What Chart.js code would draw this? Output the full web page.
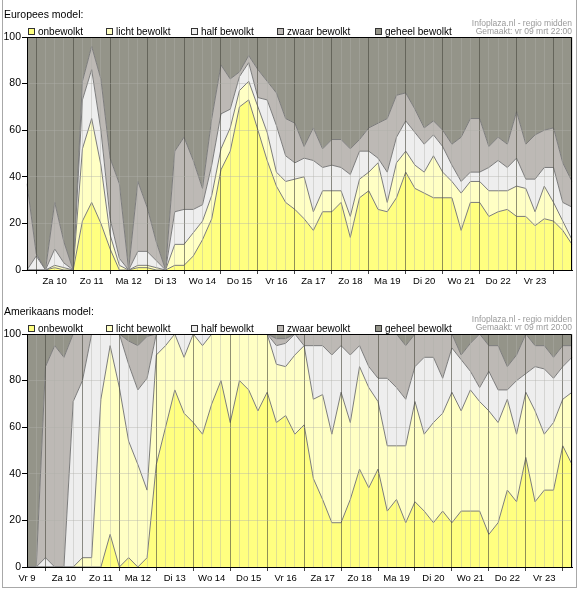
<!DOCTYPE html>
<html>
<head>
<meta charset="utf-8">
<script src="https://cdn.jsdelivr.net/npm/chart.js@4.4.1/dist/chart.umd.min.js"></script>
<style>
  html, body { margin: 0; padding: 0; background: #fff; }
  body { width: 578px; height: 594px; overflow: hidden; position: relative; font-family: "Liberation Sans", Arial, sans-serif; }
  #kader { position: absolute; left: 2px; top: 0; width: 573px; height: 587px; border-left: 1px solid #a8a8a8; border-right: 1px solid #a8a8a8; border-bottom: 1px solid #a8a8a8; }
  .paneel { position: absolute; left: 0; width: 578px; height: 297px; }
  .paneel canvas { position: absolute; left: 0; top: 0; }
  .titel { position: absolute; left: 4px; top: 8px; font-size: 10.5px; line-height: 12px; color: #000; white-space: nowrap; }
  .bron { position: absolute; right: 6px; font-size: 8.5px; line-height: 9px; color: #999; white-space: nowrap; }
  .leg { position: absolute; top: 26px; height: 11px; font-size: 10px; line-height: 11px; color: #000; white-space: nowrap; }
  .leg i { position: absolute; left: 0; top: 2px; width: 5px; height: 5px; border: 1px solid #333; }
  .leg span { position: absolute; left: 10px; top: 0; }
</style>
</head>
<body>
<div id="kader"></div>
<div class="paneel" id="paneelEU" style="top:0">
  <canvas id="grafiekEU" width="578" height="297"></canvas>
  <div class="titel">Europees model:</div>
  <div class="bron" style="top:19px">Infoplaza.nl - regio midden</div>
  <div class="bron" style="top:27px">Gemaakt: vr 09 mrt 22:00</div>
</div>
<div class="paneel" id="paneelUS" style="top:297px">
  <canvas id="grafiekUS" width="578" height="297"></canvas>
  <div class="titel">Amerikaans model:</div>
  <div class="bron" style="top:18px">Infoplaza.nl - regio midden</div>
  <div class="bron" style="top:26px">Gemaakt: vr 09 mrt 20:00</div>
</div>
<script>
// reeksen en kleuren
const reeksNamen = ['onbewolkt', 'licht bewolkt', 'half bewolkt', 'zwaar bewolkt', 'geheel bewolkt'];
const kleuren = ['#ffff80', '#ffffc4', '#eeeeee', '#bdb9b5', '#949489'];
const dagLabels = ['Vr 9', 'Za 10', 'Zo 11', 'Ma 12', 'Di 13', 'Wo 14', 'Do 15', 'Vr 16',
                   'Za 17', 'Zo 18', 'Ma 19', 'Di 20', 'Wo 21', 'Do 22', 'Vr 23', 'Za 24'];
const yTicks = [0, 20, 40, 60, 80, 100];

// Europees model: elke 6 uur vanaf vr 9 18:00 (procenten)
const euStartUur = 18;
const euOnbewolkt = [0,0,0,1,0,0,21,29,20,9, 0,0,1,1,0,0,2,2,6,13, 22,43,51,70,73,60,47,36,29,26, 22,17,25,25,29,14,31,34,26,25, 31,42,35,33,31,31,31,17,29,29, 23,25,26,23,23,19,22,21,17,11];
const euLicht     = [0,0,0,1,1,0,31,36,25,6, 2,0,1,1,1,0,9,9,10,8, 10,9,10,7,8,10,12,6,9,13, 18,8,9,9,5,9,8,8,20,4, 15,9,10,9,18,11,7,16,9,9, 11,9,8,13,12,6,14,8,4,2];
const euHalf      = [0,6,0,7,2,0,21,21,15,7, 3,0,6,6,3,0,14,15,10,7, 13,15,8,6,8,4,14,20,11,7, 8,22,10,11,10,18,12,9,2,13, 11,13,14,12,9,11,7,5,4,4, 10,13,10,12,4,14,8,15,8,14];
const euZwaar     = [37,1,0,20,9,0,8,10,22,26, 32,0,30,19,8,0,26,31,21,7, 20,21,13,2,3,12,8,14,16,17, 5,14,8,11,12,11,5,10,15,23, 18,12,10,7,6,7,9,19,23,23, 9,10,10,20,15,19,16,17,17,11];
const euGeheel    = [63,93,100,71,88,100,19,4,18,52, 63,100,62,73,88,100,49,43,53,65, 35,12,18,15,8,14,19,24,35,37, 47,39,48,44,44,48,44,39,37,35, 25,24,31,39,36,40,46,43,35,35, 47,43,46,32,46,42,40,39,54,62];

// Amerikaans model: elke 6 uur vanaf vr 9 12:00 (procenten)
const usStartUur = 12;
const usOnbewolkt = [0,0,0,0,0,0,0,0,0,14, 0,4,0,4,44,60,76,66,62,57, 70,80,62,80,76,67,75,62,65,57, 61,38,29,19,19,29,42,34,42,24, 29,19,28,24,19,24,19,24,24,24, 14,19,33,28,47,28,33,33,52,44];
const usLicht     = [0,0,0,0,0,0,4,4,72,81, 77,50,44,29,47,35,24,24,38,38, 30,20,38,20,24,33,25,25,21,34, 34,34,45,38,56,33,44,43,29,28, 23,33,43,33,43,42,56,43,52,47, 53,43,39,29,28,39,24,29,20,31];
const usHalf      = [0,0,4,0,0,71,76,96,28,5, 23,33,32,48,9,5,0,10,0,5, 0,0,0,0,0,0,0,8,10,9, 0,23,21,34,20,29,9,9,10,29, 25,20,15,33,28,15,19,22,8,6, 17,14,4,23,8,19,28,19,14,15];
const usZwaar     = [0,0,82,95,90,29,20,0,0,0, 0,10,19,18,0,0,0,0,0,0, 0,0,0,0,0,0,0,3,2,0, 5,5,5,9,5,9,5,14,19,19, 23,23,14,10,10,19,6,2,12,23, 11,19,10,11,17,9,10,9,9,5];
const usGeheel    = [100,100,14,5,10,0,0,0,0,0, 0,3,5,1,0,0,0,0,0,0, 0,0,0,0,0,0,0,2,2,0, 0,0,0,0,0,0,0,0,0,0, 0,5,0,0,0,0,0,9,4,0, 5,5,14,9,0,5,5,10,5,5];

const lijnKleur = '#7c7c7c';
const dagLijn = 'rgba(70,70,60,0.6)';
const fijnLijn = 'rgba(175,175,170,0.4)';
const legendaX = [28, 106, 191, 277, 375];

Chart.defaults.font.family = '"Liberation Sans", Arial, sans-serif';
Chart.defaults.color = '#000';

// tijdstippen (uren sinds vr 9 00:00) per meetpunt
function maakUren(startUur, n) {
    const uren = [];
    for (let i = 0; i < n; i++) uren.push(startUur + i * 6);
    return uren;
}

const kaderPlugin = {
    id: 'kaderlijn',
    afterDraw(chart) {
        const a = chart.chartArea, c = chart.ctx;
        c.save();
        c.strokeStyle = '#000'; c.lineWidth = 1;
        c.beginPath();
        c.moveTo(Math.round(a.left), Math.round(a.top) + 0.5);
        c.lineTo(Math.round(a.right) - 0.5, Math.round(a.top) + 0.5);
        c.lineTo(Math.round(a.right) - 0.5, Math.round(a.bottom));
        c.stroke();
        c.restore();
    }
};

function tekenModel(canvasId, paneelId, startUur, waarden) {
    const n = waarden[0].length;
    const uren = maakUren(startUur, n);
    const tijden = uren.map(u => dagLabels[Math.floor(u / 24)] + ' ' + String(u % 24).padStart(2, '0') + ':00');
    const isDag = i => i !== undefined && uren[i] !== undefined && uren[i] % 24 === 0;

    const datasets = waarden.map((data, k) => ({
        label: reeksNamen[k],
        data: data,
        backgroundColor: kleuren[k],
        borderColor: k === 4 ? 'rgba(0,0,0,0)' : lijnKleur,
        borderWidth: 1,
        fill: k === 0 ? 'origin' : '-1',
        pointRadius: 0,
        tension: 0
    }));

    new Chart(document.getElementById(canvasId), {
        type: 'line',
        data: { labels: tijden, datasets: datasets },
        options: {
            responsive: false,
            animation: false,
            devicePixelRatio: 1,
            events: [],
            layout: { padding: { left: 0, right: 6, top: 37, bottom: 0 } },
            plugins: { legend: { display: false }, tooltip: { enabled: false }, title: { display: false } },
            scales: {
                x: {
                    type: 'category',
                    grid: {
                        z: 1,
                        color: ctx => isDag(ctx.index) ? dagLijn : fijnLijn,
                        tickColor: ctx => isDag(ctx.index) ? '#444' : 'rgba(0,0,0,0)',
                        tickLength: 4
                    },
                    border: { color: '#000', z: 2 },
                    ticks: {
                        autoSkip: false, maxRotation: 0, minRotation: 0, padding: 2,
                        font: { size: 9.5 },
                        callback: (v, i) => (uren[i] % 24 === 12 && i < n - 1) ? dagLabels[Math.floor(uren[i] / 24)] : ''
                    },
                    afterFit: s => { s.height = 27; }
                },
                y: {
                    stacked: true, min: 0, max: 100,
                    afterBuildTicks: s => { s.ticks = yTicks.map(v => ({ value: v })); },
                    ticks: { padding: 1, font: { size: 10.5 } },
                    grid: { z: 1, color: fijnLijn, tickColor: '#000', tickLength: 5 },
                    border: { color: '#000', z: 2 },
                    afterFit: s => { s.width = 27; }
                }
            }
        },
        plugins: [kaderPlugin]
    });

    // legenda als tekst boven de grafiek
    const paneel = document.getElementById(paneelId);
    reeksNamen.forEach((naam, k) => {
        const d = document.createElement('div');
        d.className = 'leg';
        d.style.left = legendaX[k] + 'px';
        d.innerHTML = `<i style="background:${kleuren[k]}"></i><span>${naam}</span>`;
        paneel.appendChild(d);
    });
}

tekenModel('grafiekEU', 'paneelEU', euStartUur, [euOnbewolkt, euLicht, euHalf, euZwaar, euGeheel]);
tekenModel('grafiekUS', 'paneelUS', usStartUur, [usOnbewolkt, usLicht, usHalf, usZwaar, usGeheel]);
</script>
</body>
</html>
